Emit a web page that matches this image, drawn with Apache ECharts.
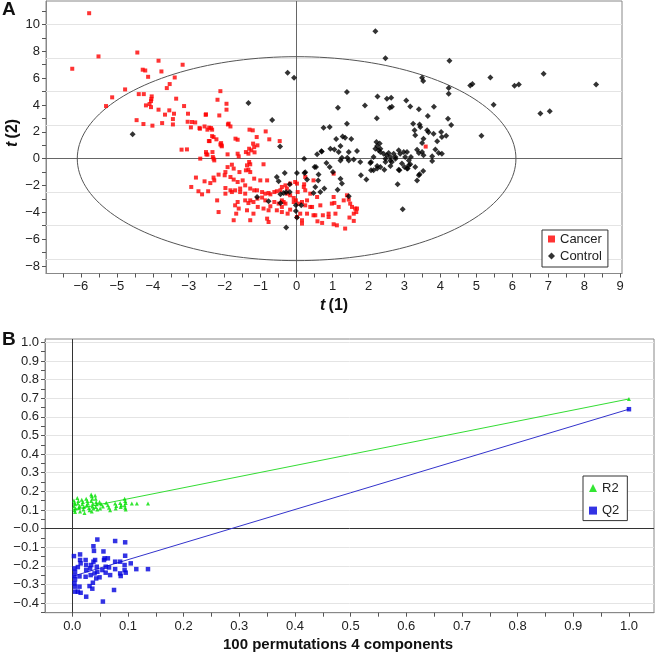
<!DOCTYPE html>
<html><head><meta charset="utf-8">
<script src="https://cdn.jsdelivr.net/npm/echarts@6/dist/echarts.min.js"></script>
<style>html,body{margin:0;padding:0;background:#fff}#c{width:655px;height:654px}</style>
</head><body><div id="c"></div>
<script>
// ---------- Panel A data: PLS-DA scores t(1), t(2) ----------
const cancer = [
[-5.77,10.84],[-6.24,6.70],[-5.51,7.62],[-4.43,7.91],[-3.84,7.30],[-3.17,7.00],[-4.28,6.63],[-4.21,6.57],[-3.76,6.50],[-4.13,6.10],
[-3.39,6.05],[-3.53,5.56],[-3.61,5.26],[-4.77,5.16],[-5.13,4.57],[-5.30,3.92],[-4.39,4.81],[-4.25,4.81],[-4.03,4.64],[-4.04,4.44],
[-4.05,4.29],[-3.35,4.47],[-4.19,3.97],[-4.09,4.07],[-4.05,3.84],[-3.84,3.65],[-3.13,3.92],[-3.54,3.60],[-3.41,3.35],[-3.66,3.28],
[-3.02,3.35],[-2.52,3.30],[-3.44,2.95],[-4.45,2.87],[-3.03,2.75],[-2.91,2.73],[-2.82,2.70],[-4.26,2.58],[-4.01,2.46],[-3.74,2.65],
[-3.44,2.55],[-2.94,2.33],[-2.69,2.23],[-2.56,2.40],[-2.48,2.16],[-2.44,1.31],[-3.20,0.67],[-2.52,0.49],[-2.48,0.30],
[-2.12,5.03],[-2.20,4.39],[-1.95,4.09],[-1.95,3.65],[-2.15,3.22],[-1.89,2.61],[-1.84,2.40],[-2.53,3.27],[-2.70,2.28],[-2.38,2.28],
[-2.43,2.31],[-2.35,2.16],[-1.91,2.55],[-1.31,2.16],[-1.22,2.11],[-2.35,1.68],[-2.23,1.44],[-2.10,1.16],[-2.09,0.99],[-1.70,1.49],
[-1.64,1.41],[-1.11,1.61],[-0.86,2.03],[-0.76,1.44],[-1.21,1.12],[-1.09,0.99],[-1.32,0.74],[-1.26,0.62],[-1.17,0.47],[-1.41,0.49],
[-0.47,1.31],[-2.33,0.12],[-2.29,-0.13],[-1.92,0.32],[-1.64,0.37],[-1.61,0.17],[-1.18,0.86],[-1.34,0.37],[-2.31,1.61],[-2.42,1.31],
[-2.12,1.06],[-2.08,0.92],[-2.34,0.49],[-2.51,0.32],[-2.31,0.00],[-2.68,0.00],[-3.05,0.69],
[-1.32,-0.25],[-1.38,-0.50],[-1.29,-0.42],[-0.92,-0.42],[-1.80,-0.45],[-1.92,-0.63],[-1.75,-0.74],[-1.59,-1.00],[-1.41,-0.87],[-1.34,-0.82],
[-1.29,-1.00],[-1.98,-1.00],[-2.00,-1.24],[-2.17,-1.19],[-2.31,-1.41],[-2.29,-1.62],[-1.84,-1.37],[-1.75,-1.56],[-1.64,-1.74],[-1.50,-1.62],
[-1.43,-1.99],[-1.57,-2.23],[-1.18,-1.49],[-1.01,-1.62],[-0.82,-1.62],[-2.80,-1.41],[-2.56,-1.69],[-2.40,-1.82],[-2.93,-2.11],[-2.73,-2.43],
[-2.63,-2.66],[-2.46,-2.43],[-1.98,-2.19],[-1.84,-2.36],[-1.71,-2.36],[-1.98,-2.61],[-1.80,-2.49],[-1.57,-2.49],[-1.43,-2.61],[-1.29,-2.23],
[-1.18,-2.36],[-1.10,-2.36],[-0.96,-2.49],[-0.87,-2.61],[-0.78,-2.56],[-0.73,-2.66],[-0.62,-2.49],[-0.55,-2.43],[-0.45,-2.36],[-2.21,-3.11],
[-2.17,-3.98],[-1.64,-3.23],[-1.71,-3.48],[-1.61,-3.72],[-1.68,-4.10],[-1.43,-3.11],[-1.29,-3.11],[-1.34,-3.31],[-1.20,-3.23],[-1.38,-3.85],
[-1.20,-4.10],[-1.29,-4.59],[-1.09,-2.98],[-0.96,-2.90],[-0.87,-3.11],[-1.08,-3.60],[-0.92,-3.72],[-0.78,-3.85],[-0.73,-3.55],[-0.82,-4.47],
[-0.78,-4.72],[-0.62,-3.23],[-0.50,-3.35],[-0.41,-3.11],[-0.31,-3.35],[-0.55,-3.85],[-0.41,-3.98],[-0.25,-4.10],[-0.18,-3.80],[-0.08,-3.23],
[-0.02,-3.11],[0.06,-3.35],[0.01,-4.35],[0.15,-4.59],[0.15,-4.84],[-0.18,-2.73],[-0.08,-2.93],[-0.27,-2.23],[-0.04,-1.74],[0.20,-2.11],
[0.24,-2.36],[0.38,-2.61],[0.29,-3.11],[0.43,-3.60],[0.29,-4.10],[0.47,-4.22],[0.47,-1.62],[-1.75,-4.59],
[0.01,-1.86],[-0.18,-1.86],[-0.31,-1.99],[-0.41,-2.11],[0.21,-1.91],[0.24,-1.37],[0.03,-2.49],[-0.27,-2.61],[-0.36,-3.23],[-0.41,-3.60],
[0.15,-3.23],[0.24,-3.48],[0.38,-3.60],[0.10,-4.10],[0.57,-2.86],[0.66,-3.48],[0.73,-4.22],[0.52,-4.22],[0.58,-4.67],[0.98,-3.35],
[1.05,-3.30],[1.17,-3.60],[1.08,-4.10],[0.89,-4.10],[1.03,-1.12],[1.03,-4.89],[1.12,-4.97],[1.35,-5.21],[1.31,-3.11],[1.40,-2.73],
[1.49,-3.35],[1.54,-3.60],[1.63,-3.72],[1.59,-4.10],[1.47,-4.39],[1.68,-3.72],[1.66,-3.98],[3.59,0.90],[1.03,-2.86],[1.45,-3.05],
[1.59,-4.64],[0.89,-4.35],[0.71,-4.79]
];
const control = [
[-4.56,1.81],[-1.34,4.14],[-0.68,2.88],[-0.46,0.90],[-0.25,6.40],[-0.07,6.03],
[-0.55,-1.37],[-0.50,-1.69],[-0.33,-1.07],[0.01,-1.07],[0.22,-1.07],[0.29,-1.56],[-0.19,-1.91],[-0.19,-2.49],[-0.36,-2.56],[-0.45,-2.66],
[-1.10,-2.86],[-0.78,-3.18],[-0.02,-3.48],[0.13,-3.48],[-0.02,-3.90],[0.01,-4.39],[-0.29,-5.14],[0.21,0.00],[0.47,-2.56],[0.50,-0.62],
[-0.45,-3.31],[-0.29,-2.51],[0.57,0.32],[0.69,0.56],
[2.19,9.50],[2.47,7.49],[3.49,6.03],[3.52,5.78],[1.40,4.96],[1.15,3.80],[1.90,3.97],[2.25,4.64],[2.51,4.47],[2.63,4.54],
[2.59,3.80],[2.23,3.02],[3.05,4.34],[3.16,3.89],[3.40,3.69],[3.65,3.17],[0.75,2.31],[0.92,2.35],[1.40,2.61],[3.24,2.61],
[3.42,2.55],[3.28,2.11],[3.44,2.35],[3.30,1.74],[3.63,2.11],[3.67,1.96],[1.10,1.46],[1.28,1.66],[1.35,1.56],[1.52,1.46],
[1.22,0.94],[0.94,0.74],[1.05,0.69],[0.70,0.54],[1.68,0.57],[1.41,0.07],[1.26,0.07],[1.45,-0.13],[1.59,-0.07],[1.77,-0.25],
[2.22,1.24],[2.31,1.12],[2.24,0.94],[2.33,0.74],[2.19,0.74],[2.28,0.62],[2.33,0.49],[2.42,0.37],[2.51,0.25],[2.56,0.42],
[2.47,0.00],[2.61,-0.13],[2.75,0.12],[2.70,0.37],[2.88,0.37],[2.84,0.62],[2.98,0.49],[3.07,0.49],[3.02,0.12],[3.12,-0.13],
[3.18,0.12],[3.35,0.67],[3.40,0.42],[3.49,0.49],[3.53,0.25],[2.07,-0.25],[2.24,-0.55],[2.33,-0.62],[2.44,-0.82],[2.14,-0.87],
[2.47,-0.25],[2.61,-0.55],[2.84,-0.82],[3.00,-0.62],[3.07,-0.74],[3.16,-0.42],[3.30,-0.62],[3.40,-1.24],[3.52,-0.92],[3.35,-1.62],
[1.79,-1.24],[1.94,-1.56],[2.81,-1.91],[2.95,-3.78],[0.83,-0.33],[0.92,-0.62],[1.01,-1.00],[0.54,-0.62],[0.61,-1.19],[0.60,-1.62],
[0.52,-2.11],[0.66,-2.49],[0.77,-2.23],[1.26,-1.86],[1.14,-2.31],[1.45,-2.81],[0.24,-1.02],
[4.25,7.30],[4.83,5.46],[4.89,5.56],[5.39,6.05],[6.06,5.44],[6.18,5.53],[6.87,6.33],[8.33,5.53],[4.23,5.26],[4.23,4.84],
[5.48,4.02],[6.78,3.37],[7.04,3.54],[5.14,1.71],[3.82,3.87],[4.21,2.98],[4.30,2.50],[3.81,1.86],[4.02,1.98],[4.04,1.61],
[4.16,1.71],[3.53,1.49],[3.91,1.29],[3.49,1.16],[3.86,0.69],[3.95,0.42],[4.04,0.37],[3.77,0.17],[3.77,-0.18],
[2.65,3.87],[2.07,-0.87],[2.24,-0.74],[2.86,-0.87],[2.93,-0.37],[3.09,-0.74],[3.12,-0.50],[3.42,-1.17],[1.22,-1.49],[1.22,-0.13],
[1.17,0.49],[1.45,0.49],[2.05,-0.33],[2.14,0.12],[2.61,0.12],[2.65,-0.25],[2.75,0.00]
];
// Hotelling T2 ellipse semi-axes
const ellipseA = 6.1;
const ellipseB = 7.6;
const topXLabels = [-6,-5,-4,-3,-2,-1,0,1,2,3,4,5,6,7,8,9];
const topYLabels = [-8,-6,-4,-2,0,2,4,6,8,10];
const topGridLines = [-7.5,-5,-2.5,2.5,5,7.5,10];

// ---------- Panel B data: permutation test ----------
const r2Perm = [
[0.003,0.151],[0.004,0.139],[0.005,0.130],[0.003,0.119],[0.006,0.107],[0.004,0.098],[0.005,0.089],
[0.009,0.164],[0.011,0.148],[0.010,0.134],[0.013,0.121],[0.012,0.110],[0.014,0.092],
[0.017,0.155],[0.019,0.142],[0.018,0.130],[0.021,0.116],[0.020,0.102],[0.022,0.084],
[0.025,0.160],[0.027,0.148],[0.028,0.134],[0.026,0.125],[0.030,0.110],[0.031,0.098],
[0.034,0.183],[0.035,0.174],[0.036,0.160],[0.034,0.148],[0.037,0.134],[0.036,0.119],[0.038,0.107],[0.035,0.092],
[0.041,0.178],[0.042,0.160],[0.043,0.142],[0.044,0.130],[0.042,0.116],[0.045,0.102],
[0.049,0.142],[0.052,0.130],[0.055,0.119],[0.050,0.107],
[0.061,0.139],[0.064,0.125],[0.066,0.112],[0.068,0.098],
[0.077,0.134],[0.079,0.121],[0.078,0.107],
[0.086,0.137],[0.088,0.125],[0.087,0.116],
[0.094,0.160],[0.095,0.148],[0.096,0.137],[0.094,0.125],[0.095,0.112],[0.096,0.102],
[0.107,0.134],[0.116,0.134],[0.136,0.134],[1.0,0.696]
];
const q2Perm = [
[0.003,-0.148],[0.014,-0.139],[0.004,-0.214],[0.005,-0.232],[0.004,-0.255],[0.005,-0.273],[0.004,-0.294],[0.005,-0.312],[0.005,-0.339],
[0.010,-0.207],[0.013,-0.257],[0.013,-0.312],[0.010,-0.339],[0.015,-0.345],[0.014,-0.169],[0.015,-0.187],
[0.024,-0.169],[0.025,-0.196],[0.025,-0.223],[0.024,-0.259],[0.032,-0.214],[0.034,-0.196],[0.033,-0.250],[0.031,-0.309],
[0.025,-0.366],[0.036,-0.323],[0.037,-0.291],[0.038,-0.178],[0.041,-0.169],[0.044,-0.205],[0.045,-0.232],[0.040,-0.241],
[0.043,-0.268],[0.038,-0.095],[0.039,-0.120],[0.045,-0.059],[0.049,-0.262],[0.056,-0.123],[0.057,-0.169],[0.060,-0.205],
[0.054,-0.223],[0.060,-0.237],[0.066,-0.209],[0.068,-0.250],[0.058,-0.160],[0.064,-0.160],[0.055,-0.392],[0.077,-0.067],
[0.077,-0.178],[0.077,-0.218],[0.075,-0.330],[0.086,-0.178],[0.086,-0.241],[0.087,-0.255],[0.095,-0.074],[0.095,-0.146],
[0.094,-0.196],[0.094,-0.223],[0.096,-0.237],[0.105,-0.187],[0.115,-0.218],[0.136,-0.218],[1.0,0.641]
];
const r2Line = [[0,0.100],[1.0,0.696]];
const q2Line = [[0,-0.257],[1.0,0.641]];
const botXLabels = [0,0.1,0.2,0.3,0.4,0.5,0.6,0.7,0.8,0.9,1.0];
const botYLabels = [-0.4,-0.3,-0.2,-0.1,0,0.1,0.2,0.3,0.4,0.5,0.6,0.7,0.8,0.9,1.0];
const botGridLines = [-0.4,-0.3,-0.2,-0.1,0.1,0.2,0.3,0.4,0.5,0.6,0.7,0.8,0.9,1.0];

// ---------- build ----------
function range(a,b,s){const r=[];for(let k=Math.round(a/s);k<=Math.round(b/s);k++)r.push(+(k*s).toFixed(4));return r;}
const topXTicks = range(-6.5,9,0.5);
const topYTicks = range(-8,11,1);
const botXTicks = range(-0.05,1.0,0.05);
const botYTicks = range(-0.45,1.0,0.05);
const ellipse = [];
for(let i=0;i<=180;i++){const t=2*Math.PI*i/180;ellipse.push([ellipseA*Math.cos(t),ellipseB*Math.sin(t)]);}

const FONT='Liberation Sans, Arial, sans-serif';
const minus = s => s.replace('-','\u2212');
const fmtInt = v => minus(String(Math.round(v)));
const fmtDecX = v => (Math.abs(v)<1e-9 ? 0 : v).toFixed(1);
const fmtDecY = v => Math.abs(v)<1e-9 ? '\u22120.0' : minus(v.toFixed(1));

function axis(gridIndex, min, max, ticks, labels, fmt, margin){
  return {gridIndex, type:'value', min, max, scale:false,
    axisLine:{show:true,onZero:false,lineStyle:{color:'#888',width:1}},
    axisTick:{show:true,customValues:ticks,length:4,lineStyle:{color:'#555'}},
    axisLabel:{customValues:labels,formatter:fmt,margin,fontSize:13,color:'#222',fontFamily:FONT},
    splitLine:{show:false}};
}
function gridLines(xi,yi,vals,color,z){
  return {type:'line',xAxisIndex:xi,yAxisIndex:yi,data:[],silent:true,z:z,
    markLine:{silent:true,symbol:'none',z:z,animation:false,label:{show:false},
      lineStyle:{color:color,width:1,type:'solid'},data:vals}};
}

const option = {
  animation:false,
  backgroundColor:'#fff',
  grid:[
    {left:46,top:1,width:576,height:272.5,show:true,borderColor:'#888',borderWidth:1,containLabel:false},
    {left:45,top:339,width:609,height:273.7,show:true,borderColor:'#888',borderWidth:1,containLabel:false}
  ],
  xAxis:[
    axis(0,-6.97,9.05,topXTicks,topXLabels,fmtInt,6),
    axis(1,-0.049,1.045,botXTicks,botXLabels,fmtDecX,7)
  ],
  yAxis:[
    axis(0,-8.56,11.75,topYTicks,topYLabels,fmtInt,6),
    axis(1,-0.452,1.018,botYTicks,botYLabels,fmtDecY,6)
  ],
  legend:[
    {data:[{name:'Cancer',icon:'rect'},{name:'Control',icon:'diamond'}],orient:'vertical',left:542,top:230,
     itemWidth:7,itemHeight:7,itemGap:3,padding:[2,6,4,6],borderColor:'#333',borderWidth:1,backgroundColor:'#fff',
     textStyle:{fontSize:13,color:'#222',fontFamily:FONT,lineHeight:14}},
    {data:[{name:'R2',icon:'triangle'},{name:'Q2',icon:'rect'}],orient:'vertical',left:583,top:476,
     itemWidth:8,itemHeight:8,itemGap:8.6,padding:[5,8,3,6],borderColor:'#333',borderWidth:1,backgroundColor:'#fff',
     textStyle:{fontSize:13,color:'#222',fontFamily:FONT,lineHeight:14}}
  ],
  graphic:[
    {type:'text',left:2,top:0,style:{text:'A',font:'bold 19px '+FONT,fill:'#111'}},
    {type:'text',left:2,top:330,style:{text:'B',font:'bold 19px '+FONT,fill:'#111'}},
    {type:'text',x:13,y:133,rotation:Math.PI/2,style:{text:'{i|t} {n|(2)}',align:'center',verticalAlign:'middle',
      rich:{i:{font:'italic bold 16px '+FONT,fill:'#111'},n:{font:'bold 16px '+FONT,fill:'#111'}}}},
    {type:'text',x:334,y:306,style:{text:'{i|t} {n|(1)}',align:'center',verticalAlign:'middle',
      rich:{i:{font:'italic bold 16px '+FONT,fill:'#111'},n:{font:'bold 16px '+FONT,fill:'#111'}}}},
    {type:'text',x:338,y:645,style:{text:'100 permutations 4 components',align:'center',verticalAlign:'middle',
      font:'bold 15px '+FONT,fill:'#111'}}
  ],
  series:[
    gridLines(0,0,topGridLines.map(v=>({yAxis:v})),'#e4e4e4',1),
    gridLines(0,0,[{xAxis:0},{yAxis:0}],'#666',2),
    gridLines(1,1,botGridLines.map(v=>({yAxis:v})),'#e4e4e4',1),
    gridLines(1,1,[{xAxis:0},{yAxis:0}],'#333',2),
    {name:'ellipse',type:'line',xAxisIndex:0,yAxisIndex:0,data:ellipse,showSymbol:false,symbol:'none',silent:true,z:2,
      lineStyle:{color:'#555',width:1}},
    {name:'Cancer',type:'scatter',xAxisIndex:0,yAxisIndex:0,data:cancer,symbol:'rect',symbolSize:4,z:3,
      itemStyle:{color:'#ff0000'}},
    {name:'Control',type:'scatter',xAxisIndex:0,yAxisIndex:0,data:control,symbol:'diamond',symbolSize:6,z:4,
      itemStyle:{color:'#000'}},
    {name:'R2line',type:'line',xAxisIndex:1,yAxisIndex:1,data:r2Line,showSymbol:false,symbol:'none',silent:true,z:2,
      lineStyle:{color:'#33dd33',width:1}},
    {name:'Q2line',type:'line',xAxisIndex:1,yAxisIndex:1,data:q2Line,showSymbol:false,symbol:'none',silent:true,z:2,
      lineStyle:{color:'#3333cc',width:1}},
    {name:'R2',type:'scatter',xAxisIndex:1,yAxisIndex:1,data:r2Perm,symbol:'triangle',symbolSize:4,z:3,
      itemStyle:{color:'#00e000'}},
    {name:'Q2',type:'scatter',xAxisIndex:1,yAxisIndex:1,data:q2Perm,symbol:'rect',symbolSize:4.5,z:3,
      itemStyle:{color:'#0000dd'}}
  ]
};
const chart = echarts.init(document.getElementById('c'),null,{renderer:'canvas'});
chart.setOption(option);
</script></body></html>
